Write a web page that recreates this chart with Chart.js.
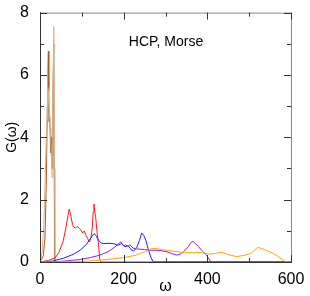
<!DOCTYPE html>
<html>
<head>
<meta charset="utf-8">
<script src="https://cdn.jsdelivr.net/npm/chart.js@4.4.0/dist/chart.umd.min.js"></script>
<style>
  html, body { margin: 0; padding: 0; background: #fff; }
  #wrap { width: 310px; height: 296px; }
</style>
</head>
<body>
<div id="wrap"><canvas id="dos"></canvas></div>
<script>
// phonon density of states, HCP Morse
const wBrown = [0, 8, 12, 15, 17, 19, 20, 21, 22, 23, 24, 25, 26, 27, 28, 29, 31, 33, 34, 35, 40];
const gBrown = [0, 0.2, 0.8, 2.5, 4.5, 6.2, 6.76, 5.5, 4.5, 4.65, 4.3, 3.8, 3.5, 4.0, 3.4, 3.0, 5.5, 7.0, 3.0, 0, 0];

const wTan = [0, 5, 9, 12, 15, 17, 19, 22, 25, 27, 29, 31, 33, 35, 36, 40];
const gTan = [0, 0.3, 1.2, 2.5, 4.0, 5.0, 5.6, 5.0, 4.2, 3.5, 2.7, 5.0, 7.55, 3.0, 0, 0];

const wRed = [0, 20, 36, 45, 55, 62, 67, 70, 74, 78, 80, 85, 90, 94, 98, 102, 106, 110, 114, 118, 122, 125, 127, 129, 131, 133, 136, 140, 143, 146, 600];
const gRed = [0, 0.05, 0.13, 0.3, 0.65, 1.1, 1.5, 1.7, 1.45, 1.2, 1.12, 1.1, 1.14, 1.08, 1.02, 0.93, 1.0, 0.85, 0.75, 0.64, 0.8, 1.1, 1.6, 1.86, 1.6, 1.45, 1.0, 0.55, 0.06, 0, 0];

const wBlue = [0, 30, 56, 80, 96, 110, 118, 124, 129, 134, 140, 145, 151, 165, 175, 187, 195, 203, 211, 219, 224, 231, 238, 243, 248, 253, 259, 265, 270, 272, 600];
const gBlue = [0, 0.03, 0.12, 0.25, 0.38, 0.55, 0.7, 0.82, 0.91, 0.85, 0.7, 0.62, 0.59, 0.6, 0.59, 0.54, 0.59, 0.49, 0.52, 0.38, 0.36, 0.45, 0.7, 0.93, 0.85, 0.7, 0.4, 0.15, 0.02, 0, 0];

const wViolet = [0, 50, 96, 120, 143, 163, 179, 188, 193, 199, 205, 210, 215, 222, 231, 250, 263, 287, 303, 315, 327, 335, 343, 350, 355, 360, 365, 370, 375, 386, 398, 405, 408, 600];
const gViolet = [0, 0.02, 0.08, 0.14, 0.22, 0.33, 0.48, 0.58, 0.65, 0.52, 0.55, 0.5, 0.55, 0.45, 0.42, 0.4, 0.38, 0.37, 0.33, 0.27, 0.22, 0.25, 0.33, 0.42, 0.5, 0.6, 0.67, 0.6, 0.55, 0.38, 0.22, 0.08, 0, 0];

const wOrange = [0, 80, 130, 160, 200, 230, 250, 265, 275, 290, 310, 330, 345, 365, 385, 406, 420, 434, 450, 470, 490, 505, 512, 520, 530, 540, 558, 570, 582, 590, 600];
const gOrange = [0, 0.01, 0.04, 0.08, 0.14, 0.22, 0.33, 0.42, 0.44, 0.4, 0.36, 0.33, 0.3, 0.3, 0.3, 0.25, 0.28, 0.31, 0.24, 0.17, 0.22, 0.28, 0.37, 0.47, 0.43, 0.38, 0.27, 0.17, 0.05, 0, 0];

const xMajor = [0, 200, 400, 600];
const xMinor = [100, 300, 500];
const yMajor = [0, 2, 4, 6, 8];
const yMinor = [1, 3, 5, 7];

function pts(w, g) {
    return w.map((v, i) => ({ x: v, y: g[i] }));
}

function series(label, w, g, color) {
    return {
        label: label,
        data: pts(w, g),
        borderColor: color,
        backgroundColor: color,
        borderWidth: 1,
        pointRadius: 0,
        tension: 0,
        fill: false
    };
}

// ticks pointing inward on all four sides, like the grace plot
const frameTicks = {
    id: 'frameTicks',
    afterDraw(chart) {
        const c = chart.ctx;
        const a = chart.chartArea;
        const xs = chart.scales.x;
        const ys = chart.scales.y;
        c.save();
        c.lineWidth = 1;
        c.strokeStyle = '#888';
        c.beginPath();
        c.moveTo(a.left, a.top + 0.5);
        c.lineTo(a.right + 0.5, a.top + 0.5);
        c.lineTo(a.right + 0.5, a.bottom);
        c.stroke();
        c.strokeStyle = '#333';
        const tick = (x1, y1, x2, y2) => {
            c.beginPath();
            c.moveTo(x1, y1);
            c.lineTo(x2, y2);
            c.stroke();
        };
        xMajor.concat(xMinor).forEach(v => {
            const len = xMajor.includes(v) ? 7 : 4;
            const px = Math.round(xs.getPixelForValue(v)) + 0.5;
            tick(px, a.bottom, px, a.bottom - len);
            tick(px, a.top, px, a.top + len);
        });
        yMajor.concat(yMinor).forEach(v => {
            const len = yMajor.includes(v) ? 7 : 4;
            const py = Math.round(ys.getPixelForValue(v)) + 0.5;
            tick(a.left, py, a.left + len, py);
            tick(a.right, py, a.right - len, py);
        });
        c.fillStyle = '#000';
        c.font = '14px "Liberation Sans", Arial, sans-serif';
        c.textAlign = 'center';
        c.textBaseline = 'middle';
        c.fillText('HCP, Morse', 166, 42);
        c.restore();
    }
};

const ctx = document.getElementById('dos');

const dosChart = new Chart(ctx, {
    type: 'line',
    data: {
        datasets: [
            series('orange', wOrange, gOrange, '#ffa500'),
            series('violet', wViolet, gViolet, '#9a1fe0'),
            series('blue', wBlue, gBlue, '#1f1fff'),
            series('red', wRed, gRed, '#ff1a1a'),
            series('tan', wTan, gTan, '#d9b48f'),
            series('brown', wBrown, gBrown, '#a85a22')
        ]
    },
    options: {
        responsive: true,
        maintainAspectRatio: false,
        animation: false,
        layout: { padding: { top: 10, right: 19, left: 4, bottom: 0 } },
        plugins: {
            legend: { display: false },
            tooltip: { enabled: false }
        },
        scales: {
            x: {
                type: 'linear',
                min: 0,
                max: 600,
                afterFit(s) { s.height = 34; },
                afterBuildTicks(s) { s.ticks = xMajor.map(v => ({ value: v })); },
                grid: { display: false },
                border: { display: true, color: '#333', width: 1 },
                ticks: {
                    color: '#000',
                    padding: 0,
                    maxRotation: 0,
                    font: { family: '"Liberation Sans", Arial, sans-serif', size: 16 }
                },
                title: {
                    display: true,
                    text: 'ω',
                    color: '#000',
                    padding: { top: -3, bottom: 0 },
                    font: { family: '"Liberation Sans", Arial, sans-serif', size: 16 }
                }
            },
            y: {
                min: 0,
                max: 8,
                afterFit(s) { s.width = 36; },
                afterBuildTicks(s) { s.ticks = yMajor.map(v => ({ value: v })); },
                grid: { display: false },
                border: { display: true, color: '#333', width: 1 },
                ticks: {
                    color: '#000',
                    padding: 3,
                    font: { family: '"Liberation Sans", Arial, sans-serif', size: 16 }
                },
                title: {
                    display: true,
                    text: 'G(ω)',
                    color: '#000',
                    padding: { top: 0, bottom: 0 },
                    font: { family: '"Liberation Sans", Arial, sans-serif', size: 14 }
                }
            }
        }
    },
    plugins: [frameTicks]
});
</script>
</body>
</html>
